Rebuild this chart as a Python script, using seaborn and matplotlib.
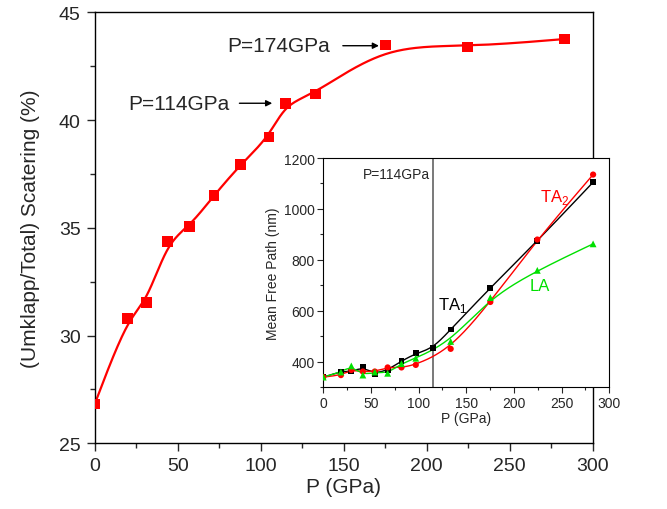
import numpy as np
import pandas as pd
import matplotlib
matplotlib.use("Agg")
import matplotlib.pyplot as plt
from matplotlib.ticker import MultipleLocator
import seaborn as sns

# ---- data ----
main_p = [0, 19.7, 31.3, 43.8, 57.2, 71.9, 88.0, 105.0, 114.8, 133.0, 175.0, 224.7, 283.0]
main_ratio = [26.82, 30.80, 31.54, 34.35, 35.07, 36.51, 37.95, 39.21, 40.78, 41.21, 43.48, 43.39, 43.76]

ta1_p = [0, 18.5, 29.4, 41.5, 54.0, 67.5, 82.0, 97.0, 115.0, 133.6, 175.2, 224.5, 283.0]
ta1_mfp = [340, 362, 362, 379, 353, 368, 403, 433, 453, 527, 691, 874, 1105]
ta2_p = [0, 18.5, 29.4, 41.5, 54.0, 67.5, 82.0, 97.0, 133.6, 175.2, 224.5, 283.0]
ta2_mfp = [340, 348, 368, 362, 362, 378, 378, 388, 451, 635, 880, 1135]
la_p = [0, 18.5, 29.4, 41.5, 54.0, 67.5, 82.0, 97.0, 133.6, 175.2, 224.5, 283.0]
la_mfp = [340, 360, 384, 348, 360, 355, 393, 414, 480, 652, 759, 863]

sns.set_style("ticks")
plt.rcParams['font.family'] = ['Liberation Sans', 'DejaVu Sans']
plt.rcParams['mathtext.fontset'] = 'custom'
plt.rcParams['mathtext.rm'] = 'Liberation Sans'


def bspline(x, y, n=40):
    """Clamped uniform cubic B-spline through control points (rendering only)."""
    P = np.column_stack([x, y]).astype(float)
    P = np.vstack([P[0], P[0], P, P[-1], P[-1]])
    t = np.linspace(0, 1, n)
    b0 = (1 - t) ** 3 / 6
    b1 = (3 * t ** 3 - 6 * t ** 2 + 4) / 6
    b2 = (-3 * t ** 3 + 3 * t ** 2 + 3 * t + 1) / 6
    b3 = t ** 3 / 6
    segs = []
    for i in range(len(P) - 3):
        seg = (b0[:, None] * P[i] + b1[:, None] * P[i + 1] +
               b2[:, None] * P[i + 2] + b3[:, None] * P[i + 3])
        segs.append(seg)
    c = np.vstack(segs)
    return pd.DataFrame({'x': c[:, 0], 'y': c[:, 1]})


fig = plt.figure(figsize=(6.67, 5.10), dpi=100)
ax = fig.add_axes([0.142, 0.1288, 0.7466, 0.8451])

red = '#ff0000'
green = '#00e000'
curve = bspline(main_p, main_ratio)
sns.lineplot(data=curve, x='x', y='y', sort=False, estimator=None, color=red, lw=1.6, ax=ax)
df_main = pd.DataFrame({'P': main_p, 'R': main_ratio})
sns.scatterplot(data=df_main, x='P', y='R', marker='s', s=60, color=red, edgecolor='none', ax=ax, zorder=3)

ax.set_xlim(0, 300)
ax.set_ylim(25, 45)
ax.xaxis.set_major_locator(MultipleLocator(50))
ax.xaxis.set_minor_locator(MultipleLocator(25))
ax.yaxis.set_major_locator(MultipleLocator(5))
ax.yaxis.set_minor_locator(MultipleLocator(2.5))
ax.tick_params(which='major', direction='out', length=6, width=1, labelsize=14, pad=4)
ax.tick_params(which='minor', direction='out', length=3.5, width=1)
for s in ax.spines.values():
    s.set_visible(True)
    s.set_linewidth(1.0)
    s.set_color('black')
ax.set_xlabel('P (GPa)', fontsize=15, labelpad=2)
ax.set_ylabel('(Umklapp/Total) Scatering (%)', fontsize=15, labelpad=14)

# annotations
ax.text(141.7, 43.45, 'P=174GPa', fontsize=15, ha='right', va='center')
ax.annotate('', xy=(172.9, 43.45), xytext=(147.8, 43.45),
            arrowprops=dict(arrowstyle='-|>', color='black', lw=1, mutation_scale=9))
ax.text(81.5, 40.78, 'P=114GPa', fontsize=15, ha='right', va='center')
ax.annotate('', xy=(108.6, 40.78), xytext=(85.5, 40.78),
            arrowprops=dict(arrowstyle='-|>', color='black', lw=1, mutation_scale=9))

# ---- inset ----
ax2 = fig.add_axes([0.4847, 0.2386, 0.4288, 0.4496])
series = [(ta1_p, ta1_mfp, 'black', 's', 18),
          (ta2_p, ta2_mfp, red, 'o', 20),
          (la_p, la_mfp, green, '^', 24)]
for px, py, col, mk, sz in series:
    cdf = bspline(px, py)
    sns.lineplot(data=cdf, x='x', y='y', sort=False, estimator=None, color=col, lw=1.0, ax=ax2)
    sdf = pd.DataFrame({'P': px, 'L': py})
    sns.scatterplot(data=sdf, x='P', y='L', marker=mk, s=sz, color=col, edgecolor='none', ax=ax2, zorder=3)

ax2.axvline(115, color='#555555', lw=1.1, zorder=1)
ax2.set_xlim(0, 300)
ax2.set_ylim(300, 1200)
ax2.xaxis.set_major_locator(MultipleLocator(50))
ax2.xaxis.set_minor_locator(MultipleLocator(25))
ax2.yaxis.set_major_locator(MultipleLocator(200))
ax2.yaxis.set_minor_locator(MultipleLocator(100))
ax2.tick_params(which='major', direction='out', length=4, width=0.8, labelsize=10, pad=2)
ax2.tick_params(which='minor', direction='out', length=2.5, width=0.8)
for s in ax2.spines.values():
    s.set_visible(True)
    s.set_linewidth(0.8)
    s.set_color('black')
ax2.set_xlabel('P (GPa)', fontsize=10, labelpad=1)
ax2.set_ylabel('Mean Free Path (nm)', fontsize=10, labelpad=3)

ax2.text(41.3, 1137, 'P=114GPa', fontsize=10, ha='left', va='center')
ax2.text(120, 624, r'TA$_1$', fontsize=12, color='black', ha='left', va='center')
ax2.text(227, 1047, r'TA$_2$', fontsize=12, color=red, ha='left', va='center')
ax2.text(216, 700, 'LA', fontsize=12, color=green, ha='left', va='center')

fig.savefig('out.png', dpi=100)
